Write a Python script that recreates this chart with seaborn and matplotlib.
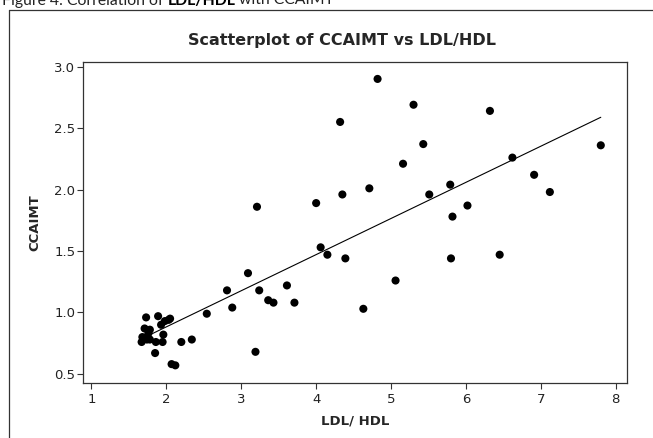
import numpy as np
import pandas as pd
import matplotlib
matplotlib.use('Agg')
import matplotlib.pyplot as plt
from matplotlib.lines import Line2D
import seaborn as sns

# LDL/HDL ratio vs CCAIMT
ldl_hdl = [3.21, 4.82, 5.30, 4.32, 6.32, 5.43, 5.16, 7.80, 6.62, 6.91, 7.12,
           4.00, 4.35, 4.71, 5.51, 5.79, 6.02, 5.82, 4.06, 4.15, 4.39, 5.80,
           6.45, 3.09, 2.81, 3.24, 3.61, 5.06, 2.88, 3.36, 3.43, 3.71, 4.63,
           2.54, 3.19,
           1.73, 1.89, 2.05, 1.98, 1.93, 1.71, 1.78, 1.68, 1.96, 1.67, 1.74,
           1.78, 1.86, 1.95, 2.20, 2.34, 1.85, 2.07, 2.12, 1.76, 2.03]
ccaimt = [1.86, 2.90, 2.69, 2.55, 2.64, 2.37, 2.21, 2.36, 2.26, 2.12, 1.98,
          1.89, 1.96, 2.01, 1.96, 2.04, 1.87, 1.78, 1.53, 1.47, 1.44, 1.44,
          1.47, 1.32, 1.18, 1.18, 1.22, 1.26, 1.04, 1.10, 1.08, 1.08, 1.03,
          0.99, 0.68,
          0.96, 0.97, 0.95, 0.93, 0.90, 0.87, 0.86, 0.80, 0.82, 0.76, 0.78,
          0.78, 0.76, 0.76, 0.76, 0.78, 0.67, 0.58, 0.57, 0.83, 0.94]

x_ticks = [1, 2, 3, 4, 5, 6, 7, 8]
y_ticks = [0.5, 1.0, 1.5, 2.0, 2.5, 3.0]

df = pd.DataFrame({'LDL/HDL': ldl_hdl, 'CCAIMT': ccaimt})

sns.set_style('white')
plt.rcParams['font.family'] = ['DejaVu Sans']

fig = plt.figure(figsize=(6.53, 4.38), dpi=100)
ax = fig.add_axes([0.1266, 0.1263, 0.8336, 0.7328])

sns.regplot(data=df, x='LDL/HDL', y='CCAIMT', ax=ax, ci=None, truncate=True,
            scatter_kws={'s': 34, 'color': 'black', 'edgecolor': 'none', 'alpha': 1},
            line_kws={'color': 'black', 'lw': 0.8})

ax.set_xlim(0.883, 8.15)
ax.set_ylim(0.429, 3.04)
ax.set_xticks(x_ticks)
ax.set_yticks(y_ticks)
ax.set_yticklabels([f'{v:.1f}' for v in y_ticks])

for sp in ax.spines.values():
    sp.set_visible(True)
    sp.set_color('#333333')
    sp.set_linewidth(0.9)

ax.tick_params(axis='both', direction='out', length=4.2, width=0.8, colors='#333333',
               labelcolor='#222222', labelsize=9.5)
ax.tick_params(axis='x', pad=3.5)
ax.tick_params(axis='y', pad=1)
ax.tick_params(left=True, bottom=True)

ax.set_xlabel('LDL/ HDL', fontsize=9.5, fontweight='bold', labelpad=6)
ax.set_ylabel('CCAIMT', fontsize=9.5, fontweight='bold', labelpad=9)

fig.text(0.524, 1 - 41 / 438, 'Scatterplot of CCAIMT vs LDL/HDL', ha='center', va='center',
         fontsize=11.5, fontweight='bold')

# outer graph frame (left and top edges visible)
fig.add_artist(Line2D([8.5 / 653, 8.5 / 653], [0, 1 - 9.5 / 438], transform=fig.transFigure,
                      color='#333333', lw=0.9))
fig.add_artist(Line2D([8.5 / 653, 1], [1 - 9.5 / 438, 1 - 9.5 / 438], transform=fig.transFigure,
                      color='#333333', lw=0.9))

# figure caption, cut off at the top edge as in the source page
cap = fig.text(0.003, 1 - 4.5 / 438, 'Figure 4: Correlation of ', ha='left', va='baseline',
               fontsize=11.3, family='Lato', color='#222222')
cap2 = ax.annotate('LDL/HDL', xy=(1, 0), xycoords=cap, ha='left', va='bottom',
                   fontsize=11.3, family='Lato', fontweight='bold', color='black',
                   annotation_clip=False)
ax.annotate(' with CCAIMT', xy=(1, 0), xycoords=cap2, ha='left', va='bottom',
            fontsize=11.3, family='Lato', color='#222222', annotation_clip=False)

fig.savefig('out.png', dpi=100)
